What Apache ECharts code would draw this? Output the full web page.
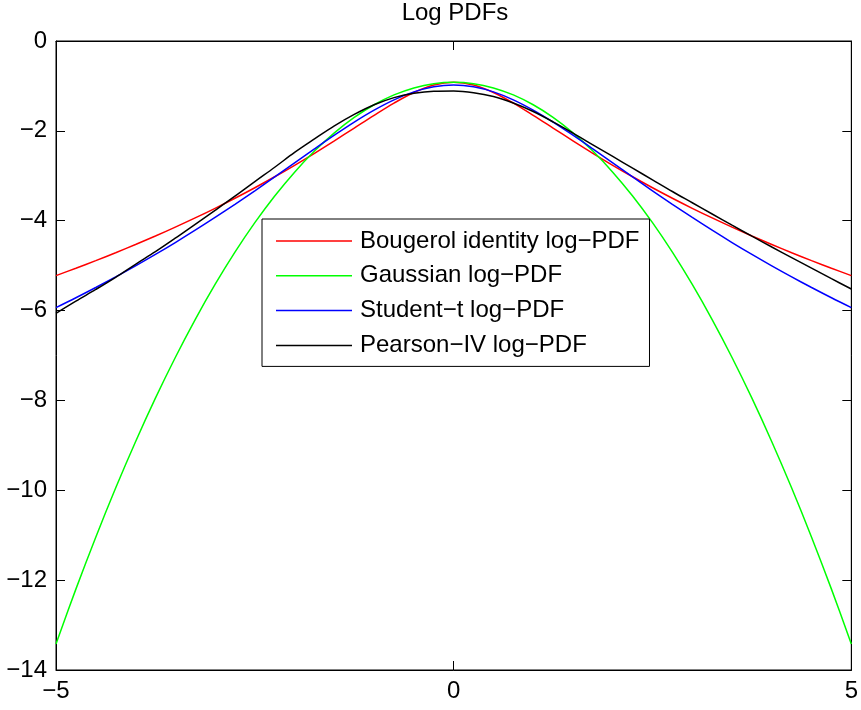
<!DOCTYPE html>
<html>
<head>
<meta charset="utf-8">
<script src="https://cdn.jsdelivr.net/npm/echarts@6/dist/echarts.min.js"></script>
<style>
  html, body { margin: 0; padding: 0; background: #fff; }
  #chart { width: 861px; height: 710px; }
</style>
</head>
<body>
<div id="chart"></div>
<script>
// Sample positions along the horizontal axis
const xValues = [
  -5, -4.75, -4.5, -4.25, -4, -3.75, -3.5, -3.25, -3, -2.75, -2.5, -2.25, -2, -1.75, -1.5, -1.25, -1, -0.75, -0.5, -0.25,
  0, 0.25, 0.5, 0.75, 1, 1.25, 1.5, 1.75, 2, 2.25, 2.5, 2.75, 3, 3.25, 3.5, 3.75, 4, 4.25, 4.5, 4.75, 5
];

// Log-density values for each distribution at the positions above
const bougerolLog = [
  -5.222, -5.058, -4.888, -4.712, -4.529, -4.340, -4.143, -3.938, -3.724, -3.500, -3.266, -3.022, -2.766, -2.499, -2.222, -1.938, -1.654, -1.382, -1.146, -0.980,
  -0.919, -0.980, -1.146, -1.382, -1.654, -1.938, -2.222, -2.499, -2.766, -3.022, -3.266, -3.500, -3.724, -3.938, -4.143, -4.340, -4.529, -4.712, -4.888, -5.058, -5.222
];
const gaussianLog = [
  -13.419, -12.200, -11.044, -9.950, -8.919, -7.950, -7.044, -6.200, -5.419, -4.700, -4.044, -3.450, -2.919, -2.450, -2.044, -1.700, -1.419, -1.200, -1.044, -0.950,
  -0.919, -0.950, -1.044, -1.200, -1.419, -1.700, -2.044, -2.450, -2.919, -3.450, -4.044, -4.700, -5.419, -6.200, -7.044, -7.950, -8.919, -9.950, -11.044, -12.200, -13.419
];
const studentLog = [
  -5.933, -5.714, -5.486, -5.250, -5.005, -4.750, -4.486, -4.212, -3.928, -3.635, -3.334, -3.026, -2.714, -2.402, -2.097, -1.805, -1.539, -1.310, -1.133, -1.020,
  -0.981, -1.020, -1.133, -1.310, -1.539, -1.805, -2.097, -2.402, -2.714, -3.026, -3.334, -3.635, -3.928, -4.212, -4.486, -4.750, -5.005, -5.250, -5.486, -5.714, -5.933
];
const pearsonLog = [
  -6.06, -5.79, -5.53, -5.26, -4.97, -4.69, -4.39, -4.08, -3.77, -3.455, -3.13, -2.81, -2.48, -2.18, -1.89, -1.635, -1.42, -1.26, -1.165, -1.12,
  -1.115, -1.15, -1.235, -1.38, -1.57, -1.80, -2.05, -2.31, -2.57, -2.83, -3.09, -3.35, -3.60, -3.85, -4.10, -4.345, -4.585, -4.82, -5.055, -5.29, -5.52
];

const seriesNames = [
  'Bougerol identity log\u2212PDF',
  'Gaussian log\u2212PDF',
  'Student\u2212t log\u2212PDF',
  'Pearson\u2212IV log\u2212PDF'
];
const seriesColors = ['#ff0000', '#00ff00', '#0000ff', '#000000'];
const seriesValues = [bougerolLog, gaussianLog, studentLog, pearsonLog];

const FONT = '"Liberation Sans", Arial, Helvetica, sans-serif';
const FONT_SIZE = 24;
const minusFmt = v => String(v).replace('-', '\u2212');

const pairs = vals => xValues.map((x, i) => [x, vals[i]]);

const chart = echarts.init(document.getElementById('chart'), null, { renderer: 'canvas' });

const tickStyle = { show: true, inside: true, length: 9, lineStyle: { color: '#000', width: 1 } };

chart.setOption({
  animation: false,
  backgroundColor: '#ffffff',
  textStyle: { fontFamily: FONT },
  title: {
    text: 'Log PDFs',
    left: 455,
    textAlign: 'center',
    top: 1,
    padding: 0,
    textStyle: { fontFamily: FONT, fontSize: FONT_SIZE, fontWeight: 'normal', color: '#000' }
  },
  grid: {
    left: 56, right: 7, top: 41, bottom: 40,
    show: true, borderColor: '#000', borderWidth: 1, backgroundColor: '#fff'
  },
  legend: {
    orient: 'vertical',
    left: 262,
    top: 219,
    padding: [10, 10, 9, 14],
    itemWidth: 76,
    itemHeight: 1.5,
    itemGap: 10.8,
    backgroundColor: '#fff',
    borderColor: '#000',
    borderWidth: 1,
    textStyle: { fontFamily: FONT, fontSize: FONT_SIZE, color: '#000', padding: [0, 0, 0, 3] },
    data: seriesNames.map(n => ({ name: n, icon: 'rect' }))
  },
  xAxis: [
    {
      type: 'value', min: -5, max: 5, interval: 5, position: 'bottom',
      axisLine: { show: true, onZero: false, lineStyle: { color: '#000', width: 1 } },
      axisTick: tickStyle,
      splitLine: { show: false },
      axisLabel: { margin: 9, fontFamily: FONT, fontSize: FONT_SIZE, color: '#000', formatter: minusFmt }
    },
    {
      type: 'value', min: -5, max: 5, interval: 5, position: 'top',
      axisLine: { show: true, onZero: false, lineStyle: { color: '#000', width: 1 } },
      axisTick: tickStyle,
      splitLine: { show: false },
      axisLabel: { show: false }
    }
  ],
  yAxis: [
    {
      type: 'value', min: -14, max: 0, interval: 2, position: 'left',
      axisLine: { show: true, onZero: false, lineStyle: { color: '#000', width: 1 } },
      axisTick: tickStyle,
      splitLine: { show: false },
      axisLabel: { margin: 9, fontFamily: FONT, fontSize: FONT_SIZE, color: '#000', formatter: minusFmt }
    },
    {
      type: 'value', min: -14, max: 0, interval: 2, position: 'right',
      axisLine: { show: true, onZero: false, lineStyle: { color: '#000', width: 1 } },
      axisTick: tickStyle,
      splitLine: { show: false },
      axisLabel: { show: false }
    }
  ],
  series: seriesNames.map((name, i) => ({
    name: name,
    type: 'line',
    xAxisIndex: 0,
    yAxisIndex: 0,
    data: pairs(seriesValues[i]),
    smooth: 0.35,
    symbol: 'none',
    showSymbol: false,
    clip: true,
    lineStyle: { color: seriesColors[i], width: 1.5 },
    itemStyle: { color: seriesColors[i] },
    emphasis: { disabled: true }
  }))
});
</script>
</body>
</html>
